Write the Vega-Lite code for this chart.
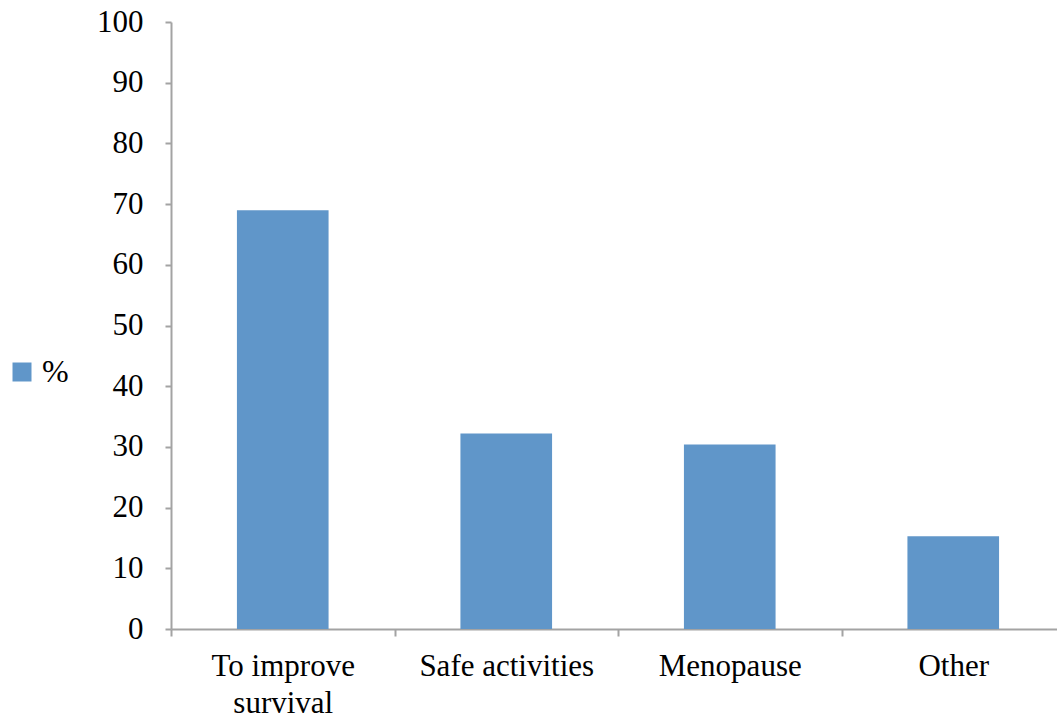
{
  "$schema": "https://vega.github.io/schema/vega-lite/v6.json",
  "width": 894,
  "height": 607,
  "autosize": {"type": "none"},
  "padding": {"left": 171, "top": 22, "right": 0, "bottom": 90},
  "background": "white",
  "config": {
    "view": {"stroke": null},
    "font": "Liberation Serif"
  },
  "data": {
    "values": [
      {"reason": "To improve survival", "series": "%", "value": 69},
      {"reason": "Safe activities", "series": "%", "value": 32.2},
      {"reason": "Menopause", "series": "%", "value": 30.4},
      {"reason": "Other", "series": "%", "value": 15.3}
    ]
  },
  "mark": {"type": "bar", "color": "#6096c9", "width": {"band": 0.41}},
  "encoding": {
    "x": {
      "field": "reason",
      "type": "nominal",
      "sort": null,
      "title": null,
      "scale": {"paddingInner": 0, "paddingOuter": 0},
      "axis": {
        "labelAngle": 0,
        "labelFont": "Liberation Serif",
        "labelFontSize": 31,
        "labelColor": "black",
        "labelPadding": 15,
        "labelLineHeight": 37,
        "labelExpr": "datum.label == 'To improve survival' ? ['To improve', 'survival'] : datum.label",
        "tickBand": "extent",
        "tickSize": 7,
        "tickWidth": 2,
        "tickColor": "#a3a3a3",
        "domainColor": "#a3a3a3",
        "domainWidth": 2
      }
    },
    "y": {
      "field": "value",
      "type": "quantitative",
      "title": null,
      "scale": {"domain": [0, 100], "nice": false},
      "axis": {
        "values": [0, 10, 20, 30, 40, 50, 60, 70, 80, 90, 100],
        "grid": false,
        "labelFont": "Liberation Serif",
        "labelFontSize": 31,
        "labelColor": "black",
        "labelPadding": 22,
        "tickSize": 6,
        "tickWidth": 2,
        "tickColor": "#a3a3a3",
        "domainColor": "#a3a3a3",
        "domainWidth": 2
      }
    },
    "fill": {
      "field": "series",
      "type": "nominal",
      "scale": {"range": ["#6096c9"]},
      "legend": {
        "title": null,
        "orient": "none",
        "legendX": -165,
        "legendY": 334,
        "symbolType": "square",
        "symbolSize": 361,
        "symbolStrokeWidth": 0,
        "labelFont": "Liberation Serif",
        "labelFontSize": 32,
        "labelColor": "black",
        "labelOffset": 4
      }
    }
  }
}
